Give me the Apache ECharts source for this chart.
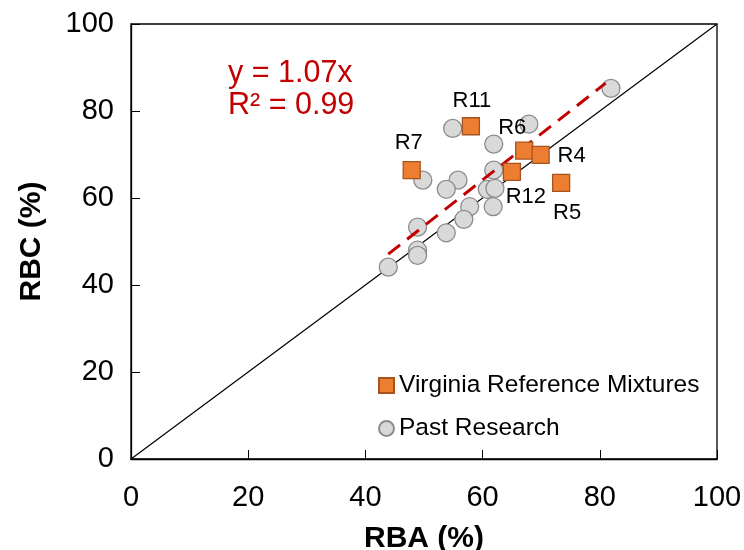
<!DOCTYPE html>
<html>
<head>
<meta charset="utf-8">
<script src="https://cdn.jsdelivr.net/npm/echarts@6/dist/echarts.min.js"></script>
<style>
html,body{margin:0;padding:0;background:#fff;}
#chart{width:744px;height:550px;}
</style>
</head>
<body>
<div id="chart"></div>
<script>
// ---- data ----
var virginiaNames = ['R11', 'R6', 'R4', 'R7', 'R12', 'R5'];
var virginiaRBA   = [58.0, 67.1, 69.9, 47.9, 65.0, 73.4];
var virginiaRBC   = [76.5, 70.9, 69.9, 66.4, 66.0, 63.5];

var pastRBA = [54.9, 67.9, 61.9, 49.8, 55.8, 53.8, 61.9, 60.8, 62.1, 57.8, 61.8, 56.8, 53.8, 48.9, 48.9, 48.9, 43.9, 81.9];
var pastRBC = [76.0, 77.0, 72.4, 64.1, 64.1, 62.0, 66.4, 62.0, 62.2, 58.0, 58.0, 55.1, 52.0, 53.3, 48.0, 46.8, 44.1, 85.2];

var fitX = [43.9, 81.0];       // extent of the fitted line
var fitY = [47.1, 86.4];
var identityX = [0, 100];
var identityY = [0, 100];

var xTicks = [0, 20, 40, 60, 80, 100];
var yTicks = [0, 20, 40, 60, 80, 100];
var equationText = 'y = 1.07x';
var r2Text = 'R² = 0.99';

// ---- styling of point labels (offsets in px) ----
var labelOffsets = {
  R11: [1, -25], R6: [-12, -23], R4: [31, 1], R7: [-3, -27], R12: [14, 25], R5: [6, 30]
};

var FONT = '"Liberation Sans", Arial, sans-serif';

var virginiaData = virginiaNames.map(function (n, i) {
  return {
    name: n,
    value: [virginiaRBA[i], virginiaRBC[i]],
    label: {
      show: true, position: 'inside', offset: labelOffsets[n],
      formatter: n, color: '#000', fontSize: 22, fontFamily: FONT
    }
  };
});
var pastData = pastRBA.map(function (x, i) { return [x, pastRBC[i]]; });

var chart = echarts.init(document.getElementById('chart'), null, {renderer: 'canvas'});
chart.setOption({
  animation: false,
  backgroundColor: '#fff',
  grid: {
    left: 131, right: 27, top: 24, bottom: 91,
    containLabel: false, outerBoundsMode: 'none',
    show: true, borderColor: '#000', borderWidth: 1.3, backgroundColor: 'transparent'
  },
  xAxis: {
    type: 'value', min: 0, max: 100, interval: 20,
    name: 'RBA (%)', nameLocation: 'middle', nameGap: 65,
    nameTextStyle: {fontSize: 30, fontWeight: 'bold', color: '#000', fontFamily: FONT},
    axisLine: {show: true, lineStyle: {color: '#000', width: 1.3}},
    axisTick: {show: true, inside: true, length: 9, lineStyle: {color: '#000', width: 1}},
    axisLabel: {fontSize: 29, color: '#000', fontFamily: FONT, margin: 24,
      formatter: function (v) { return xTicks.indexOf(v) >= 0 ? String(v) : ''; }},
    splitLine: {show: false}
  },
  yAxis: {
    type: 'value', min: 0, max: 100, interval: 20,
    name: 'RBC (%)', nameLocation: 'middle', nameGap: 84,
    nameTextStyle: {fontSize: 30, fontWeight: 'bold', color: '#000', fontFamily: FONT},
    axisLine: {show: true, lineStyle: {color: '#000', width: 1.3}},
    axisTick: {show: true, inside: true, length: 9, lineStyle: {color: '#000', width: 1}},
    axisLabel: {fontSize: 29, color: '#000', fontFamily: FONT, margin: 17,
      formatter: function (v) { return yTicks.indexOf(v) >= 0 ? String(v) : ''; }},
    splitLine: {show: false}
  },
  legend: {
    orient: 'vertical', left: 378, top: 373, padding: 0,
    itemWidth: 15, itemHeight: 15, itemGap: 18,
    textStyle: {fontSize: 24.5, color: '#000', fontFamily: FONT, lineHeight: 24},
    data: [
      {name: 'Virginia Reference Mixtures', icon: 'rect'},
      {name: 'Past Research', icon: 'circle'}
    ]
  },
  graphic: [
    {type: 'text', left: 228, top: 58, style: {text: equationText, fill: '#C00000', font: '30.5px ' + FONT}},
    {type: 'text', left: 228, top: 90, style: {text: r2Text, fill: '#C00000', font: '30.5px ' + FONT}}
  ],
  series: [
    {
      name: 'identity', type: 'line', silent: true, symbol: 'none',
      data: identityX.map(function (x, i) { return [x, identityY[i]]; }),
      lineStyle: {color: '#000', width: 1.2}, z: 1
    },
    {
      name: 'Past Research', type: 'scatter', symbol: 'circle', symbolSize: 18,
      data: pastData,
      itemStyle: {color: '#D9D9D9', borderColor: '#8C8C8C', borderWidth: 1.3, opacity: 1}, z: 2
    },
    {
      name: 'fit', type: 'line', silent: true, symbol: 'none',
      data: fitX.map(function (x, i) { return [x, fitY[i]]; }),
      lineStyle: {color: '#C00000', width: 3, type: [15, 9]}, z: 3
    },
    {
      name: 'Virginia Reference Mixtures', type: 'scatter', symbol: 'rect', symbolSize: 17,
      data: virginiaData,
      itemStyle: {color: '#ED7D31', borderColor: '#A5541F', borderWidth: 1.3, opacity: 1}, z: 4
    }
  ]
});
</script>
</body>
</html>
